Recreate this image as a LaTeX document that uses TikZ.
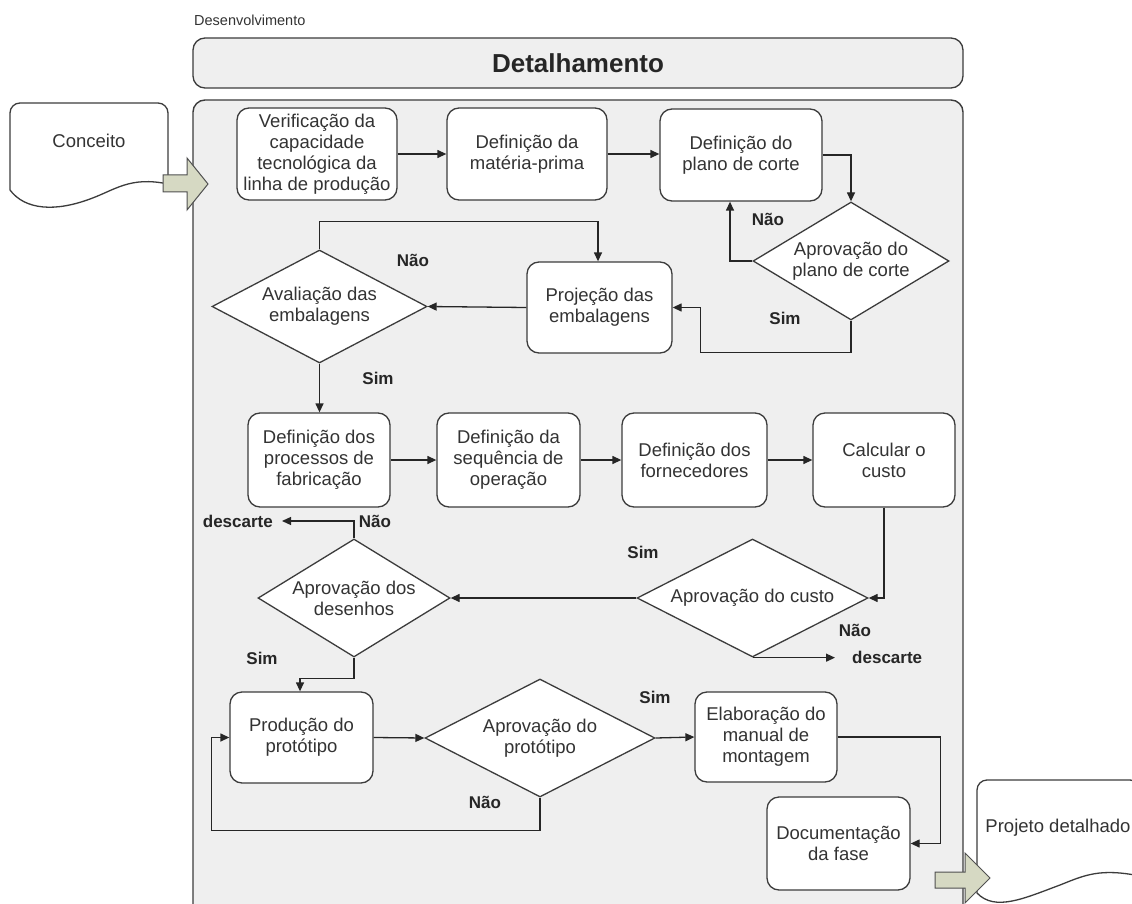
\documentclass[tikz,border=0pt]{standalone}
\usepackage{fontspec}
\setmainfont{Liberation Sans}
\usetikzlibrary{shapes.geometric,arrows.meta,calc}

\definecolor{panel}{HTML}{EFEFEF}
\definecolor{edge}{HTML}{3C3C3C}
\definecolor{ink}{HTML}{333333}
\definecolor{blockfill}{HTML}{D6D9C3}

\begin{document}
\begin{tikzpicture}[x=1pt,y=-1pt,
  every node/.style={font=\fontsize{18.5}{21}\selectfont, text=ink},
  task/.style={draw=edge, line width=1.3pt, fill=white, rounded corners=12pt,
    align=center, inner sep=0pt},
  decision/.style={draw=edge, line width=1.3pt, fill=white, diamond, aspect=1.8,
    inner sep=0pt, align=center},
  flow/.style={draw=black!85, line width=1.3pt, -{Triangle[length=9pt,width=8pt]}},
  answer/.style={font=\fontsize{17}{20}\bfseries\selectfont, text=black!85},
  docshape/.style={draw=edge, line width=1.3pt, fill=white},
  blockarrow/.style={draw=edge!90, line width=1pt, fill=blockfill},
]
\path[use as bounding box] (0,0) rectangle (1132,904);
\clip (0,0) rectangle (1132,904);
\fill[white] (0,0) rectangle (1132,904);

% phase label and header bar
\node[anchor=west, inner sep=0pt, font=\fontsize{14.5}{16}\selectfont] (phase) at (194,20) {Desenvolvimento};
\node[draw=edge, line width=1.3pt, fill=panel, rounded corners=12pt,
  minimum width=770pt, minimum height=50pt, inner sep=0pt,
  font=\fontsize{26}{30}\bfseries\selectfont, text=black!85] (header) at (578,63) {Detalhamento};

% main panel
\draw[draw=edge, line width=1.4pt, fill=panel, rounded corners=12pt] (193,100) rectangle (963,1000);

% input document
\path[docshape] (10,190) -- (10,113) arc[start angle=180,end angle=270,radius=10]
  -- (158,103) arc[start angle=270,end angle=360,radius=10]
  -- (168,184) .. controls (130,176) and (115,190) .. (90,199)
  .. controls (55,212) and (25,210) .. (10,190) -- cycle;
\node (concept) at (89,141) {Conceito};

% output document
\path[docshape] (977,893) -- (977,790) arc[start angle=180,end angle=270,radius=10]
  -- (1130,780) arc[start angle=270,end angle=360,radius=10]
  -- (1140,876) .. controls (1100,868) and (1085,875) .. (1060,885)
  .. controls (1025,898) and (995,912) .. (977,893) -- cycle;
\node (output) at (1058,828) {Projeto detalhado};

% tasks
\node[task, minimum width=160pt, minimum height=92pt] (verif) at (317,154)
  {Verificação da\\capacidade\\tecnológica da\\linha de produção};
\node[task, minimum width=160pt, minimum height=92pt] (materia) at (527,154)
  {Definição da\\matéria-prima};
\node[task, minimum width=162pt, minimum height=92pt] (plano) at (741,155)
  {Definição do\\plano de corte};
\node[task, minimum width=145pt, minimum height=91pt] (projemb) at (599.5,307.5)
  {Projeção das\\embalagens};
\node[task, minimum width=142pt, minimum height=94pt] (processos) at (319,460)
  {Definição dos\\processos de\\fabricação};
\node[task, minimum width=143pt, minimum height=94pt] (sequencia) at (508.5,460)
  {Definição da\\sequência de\\operação};
\node[task, minimum width=145pt, minimum height=94pt] (fornec) at (694.5,460)
  {Definição dos\\fornecedores};
\node[task, minimum width=142pt, minimum height=94pt] (custo) at (884,460)
  {Calcular o\\custo};
\node[task, minimum width=143pt, minimum height=91pt] (prototipo) at (301.5,737.5)
  {Produção do\\protótipo};
\node[task, minimum width=142pt, minimum height=90pt] (manual) at (766,737)
  {Elaboração do\\manual de\\montagem};
\node[task, minimum width=143pt, minimum height=93pt] (docfase) at (838.5,843.5)
  {Documentação\\da fase};

% decisions
\node[decision, minimum width=196pt, minimum height=118pt] (aprplano) at (851,261)
  {Aprovação do\\plano de corte};
\node[decision, minimum width=215pt, minimum height=113pt] (avalemb) at (319.5,306.5)
  {Avaliação das\\embalagens};
\node[decision, minimum width=231pt, minimum height=118pt] (aprcusto) at (752.5,598)
  {Aprovação do custo};
\node[decision, minimum width=192pt, minimum height=118pt] (aprdes) at (354,598)
  {Aprovação dos\\desenhos};
\node[decision, minimum width=230pt, minimum height=118pt] (aprprot) at (540,738)
  {Aprovação do\\protótipo};

% discard ends
\node[answer, anchor=west, inner xsep=17pt, inner ysep=2pt] (discA) at (835,657) {descarte};
\node[answer, anchor=east, inner xsep=9pt, inner ysep=2pt] (discB) at (282,521) {descarte};

% connectors
\draw[flow] (verif.east) -- (materia.west);
\draw[flow] (materia.east) -- (materia.east -| plano.west);
\draw[flow] (plano.east) -| (aprplano.north);
\draw[flow] (aprplano.west) -| ([xshift=-11pt]plano.south);
\draw[flow] (aprplano.south) -- ++(0,32) -| ([xshift=28pt]projemb.east) -- (projemb.east);
\draw[flow] (projemb.west) -- (avalemb.east);
\draw[flow] (avalemb.north) -- ++(0,-28) -| ([xshift=-1.5pt]projemb.north);
\draw[flow] (avalemb.south) -- (avalemb.south |- processos.north);
\draw[flow] (processos.east) -- (sequencia.west);
\draw[flow] (sequencia.east) -- (fornec.west);
\draw[flow] (fornec.east) -- (custo.west);
\draw[flow] (custo.south) |- (aprcusto.east);
\draw[flow] (aprcusto.west) -- (aprdes.east);
\draw[flow] (aprcusto.south) -- (aprcusto.south -| discA.west);
\draw[flow] (aprdes.north) |- (discB.east);
\draw[flow] (aprdes.south) -- ++(0,21) -| ([xshift=-1.5pt]prototipo.north);
\draw[flow] (prototipo.east) -- (aprprot.west);
\draw[flow] (aprprot.east) -- (manual.west);
\draw[flow] (aprprot.south) -- ++(0,33) -| ([xshift=-18pt]prototipo.west) -- (prototipo.west);
\draw[flow] (manual.east) -| ([xshift=30pt]docfase.east) -- (docfase.east);

% answer labels
\node[answer] (naoA) at (768,219) {Não};
\node[answer] (simA) at (785,318) {Sim};
\node[answer] (naoB) at (413,260) {Não};
\node[answer] (simB) at (378,378) {Sim};
\node[answer] (simC) at (643,552) {Sim};
\node[answer] (naoC) at (855,630) {Não};
\node[answer] (naoD) at (375,521) {Não};
\node[answer] (simD) at (262,658) {Sim};
\node[answer] (simE) at (655,697) {Sim};
\node[answer] (naoE) at (485,802) {Não};

% block arrows into and out of the phase
\path[blockarrow] (163,175) -- (187,175) -- (187,158) -- (208,184) -- (187,210)
  -- (187,192) -- (163,192) -- cycle;
\path[blockarrow] (935,872) -- (965,872) -- (965,853) -- (990,878) -- (965,903)
  -- (965,888) -- (935,888) -- cycle;
\end{tikzpicture}
\end{document}
